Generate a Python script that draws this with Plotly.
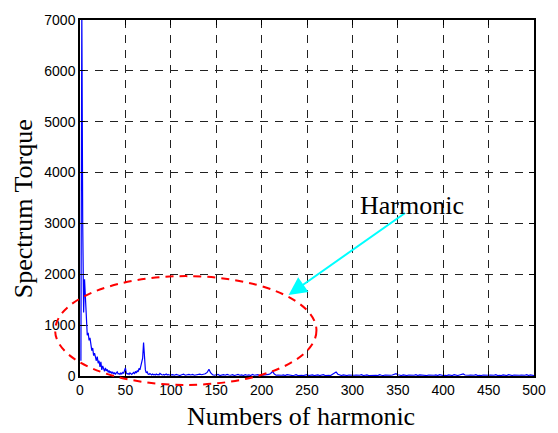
import plotly.graph_objects as go

# Harmonic index (x) and spectrum torque (y)
harm_low = list(range(1, 101))
torque_low = [
    300, 7200, 3000, 1250, 1900, 1500, 1050, 800, 850, 700,
    750, 600, 500, 550, 400, 450, 350, 300, 380, 250,
    300, 180, 280, 120, 200, 150, 90, 160, 100, 130,
    70, 110, 60, 90, 50, 80, 40, 70, 30, 60,
    80, 40, 50, 30, 60, 40, 70, 50, 90, 160,
    60, 40, 50, 30, 60, 40, 30, 50, 70, 40,
    90, 60, 100, 80, 150, 120, 200, 250, 350, 660,
    300, 120, 60, 80, 40, 30, 50, 30, 20, 40,
    25, 30, 20, 40, 25, 30, 20, 50, 30, 25,
    20, 30, 20, 25, 40, 20, 30, 20, 25, 20,
]
harm_high = list(range(102, 501, 2))
torque_high = [
    25, 15, 30, 20, 10, 25, 35, 15, 20, 30,
    20, 30, 15, 25, 20, 35, 25, 30, 45, 70,
    130, 60, 25, 15, 20, 30, 10, 20, 25, 15,
    30, 20, 15, 25, 10, 20, 30, 15, 20, 10,
    25, 15, 20, 10, 30, 15, 20, 25, 10, 15,
    20, 15, 25, 30, 50, 90, 40, 15, 20, 10,
    15, 20, 10, 25, 15, 20, 10, 15, 25, 10,
    20, 15, 10, 20, 25, 10, 15, 20, 10, 15,
    20, 10, 15, 25, 10, 20, 15, 10, 30, 45,
    80, 35, 15, 10, 20, 15, 10, 20, 15, 10,
    15, 20, 10, 15, 25, 10, 15, 20, 10, 15,
    10, 20, 15, 10, 25, 15, 10, 20, 15, 10,
    15, 20, 30, 45, 25, 15, 10, 20, 15, 10,
    20, 15, 10, 15, 25, 10, 20, 15, 10, 15,
    10, 20, 15, 10, 15, 20, 10, 25, 15, 10,
    15, 10, 20, 15, 10, 25, 15, 10, 20, 30,
    40, 20, 10, 15, 20, 10, 15, 25, 10, 15,
    10, 20, 15, 10, 15, 20, 10, 15, 25, 10,
    15, 10, 20, 15, 10, 25, 15, 10, 20, 15,
    10, 15, 20, 10, 15, 25, 10, 20, 15, 10,
]

x_ticks = [0, 50, 100, 150, 200, 250, 300, 350, 400, 450, 500]
y_ticks = [0, 1000, 2000, 3000, 4000, 5000, 6000, 7000]

x_title = "Numbers of harmonic"
y_title = "Spectrum Torque"
note_text = "Harmonic"

harm = harm_low + harm_high
torque = torque_low + torque_high

W, H = 558, 433
L, R, T, B = 80, 21, 16, 57
pw, ph = W - L - R, H - T - B


def px_x(p):
    return (p - L) / pw


def px_y(p):
    return (H - B - p) / ph


fig = go.Figure()
fig.add_trace(go.Scatter(
    x=harm, y=torque, mode="lines",
    line=dict(color="#0000FF", width=1.2),
    showlegend=False, hoverinfo="skip",
))

axis_common = dict(
    showline=True, linecolor="black", linewidth=1.5, mirror="ticks",
    ticks="inside", ticklen=5, tickcolor="black", tickwidth=1,
    showgrid=True, gridcolor="#222222", gridwidth=1, griddash="8px,7px",
    zeroline=False,
    tickfont=dict(family="Liberation Sans, Arial", size=14, color="black"),
)

fig.update_xaxes(range=[0, 500], tickvals=x_ticks, **axis_common)
fig.update_yaxes(range=[0, 7000], tickvals=y_ticks, **axis_common)

# dashed red ellipse marking the harmonic region
fig.add_shape(
    type="circle", xref="paper", yref="paper",
    x0=px_x(55), x1=px_x(318), y0=px_y(385), y1=px_y(275),
    line=dict(color="#FF0000", width=2, dash="8px,6px"),
    layer="above",
)

fig.add_annotation(
    xref="paper", yref="paper", x=px_x(290), y=px_y(294),
    ax=118, ay=-83, axref="pixel", ayref="pixel",
    text="", showarrow=True, arrowhead=2, arrowsize=1.8,
    arrowwidth=2, arrowcolor="#00FFFF", standoff=0,
)
fig.add_annotation(
    xref="paper", yref="paper", x=px_x(414), y=px_y(204),
    text=note_text, showarrow=False, xanchor="center", yanchor="middle",
    font=dict(family="Liberation Serif, Times New Roman", size=26, color="black"),
)
fig.add_annotation(
    xref="paper", yref="paper", x=px_x(302), y=px_y(417),
    text=x_title, showarrow=False, xanchor="center", yanchor="middle",
    font=dict(family="Liberation Serif, Times New Roman", size=26, color="black"),
)
fig.add_annotation(
    xref="paper", yref="paper", x=px_x(24), y=px_y(207),
    text=y_title, showarrow=False, textangle=-90,
    xanchor="center", yanchor="middle",
    font=dict(family="Liberation Serif, Times New Roman", size=26, color="black"),
)

fig.update_layout(
    width=W, height=H,
    margin=dict(l=L, r=R, t=T, b=B),
    paper_bgcolor="white", plot_bgcolor="white",
    showlegend=False,
)

fig.write_html("out.html")
